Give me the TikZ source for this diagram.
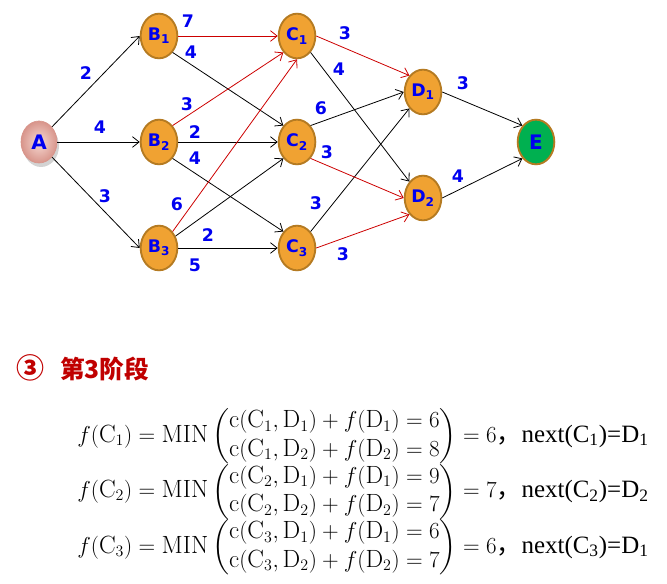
\documentclass[tikz,border=0pt]{standalone}
\usepackage{amsmath}
\usepackage{fontspec}
\usetikzlibrary{arrows.meta,shapes.geometric,shadows}
\newfontfamily\nodefont{DejaVu Sans}
\newfontfamily\cjk{Noto Sans CJK SC}
\newfontfamily\timesfont{Liberation Serif}
\definecolor{stageFill}{HTML}{F0A232}
\definecolor{stageLine}{HTML}{B57B22}
\definecolor{endFill}{HTML}{00B050}
\definecolor{wtBlue}{HTML}{0000F0}
\definecolor{pathRed}{HTML}{CC0000}
\definecolor{titleRed}{HTML}{C00000}
\definecolor{startIn}{HTML}{F6D9D3}
\definecolor{startOut}{HTML}{D8958B}
% one row of the stage-3 recursion: index, two sums, min
\newcommand{\fceq}[4]{$f(\mathrm{C}_{#1})=\mathrm{MIN}\left(\begin{matrix}
 \mathrm{c}(\mathrm{C}_{#1},\mathrm{D}_1)+f(\mathrm{D}_1)=#2\\
 \mathrm{c}(\mathrm{C}_{#1},\mathrm{D}_2)+f(\mathrm{D}_2)=#3\end{matrix}\right)=#4$}

\begin{document}
\begin{tikzpicture}[x=0.75pt,y=-0.75pt,
stage/.style={ellipse,draw=stageLine,fill=#1,line width=1.4pt,minimum width=27.5pt,minimum height=33.5pt,inner sep=0pt,text=wtBlue,font=\nodefont\bfseries\fontsize{13}{15}\selectfont},
stage/.default=stageFill,
start/.style={ellipse,draw=startOut,line width=.5pt,inner color=startIn,outer color=startOut,minimum width=27pt,minimum height=31.5pt,inner sep=0pt,text=wtBlue,font=\nodefont\bfseries\fontsize{15}{17}\selectfont,drop shadow={opacity=.35,shadow xshift=1.5pt,shadow yshift=-3pt}},
wt/.style={text=wtBlue,font=\nodefont\bfseries\fontsize{13}{15}\selectfont,inner sep=0pt},
edge/.style={-{Straight Barb[length=5pt,width=8pt]},line width=.6pt,draw=#1},
edge/.default=black,
eqline/.style={anchor=base west,inner sep=0pt,font=\fontsize{18.7}{21.5}\selectfont}]
\useasboundingbox (0,0) rectangle (667,584);
\node[start] (A) at (39,142) {A};
\node[stage] (B1) at (159,36) {B\textsubscript{1}};
\node[stage] (B2) at (159,142) {B\textsubscript{2}};
\node[stage] (B3) at (159,248) {B\textsubscript{3}};
\node[stage] (C1) at (297,36) {C\textsubscript{1}};
\node[stage] (C2) at (297,142) {C\textsubscript{2}};
\node[stage] (C3) at (297,248) {C\textsubscript{3}};
\node[stage] (D1) at (423,92) {D\textsubscript{1}};
\node[stage] (D2) at (423,198) {D\textsubscript{2}};
\node[stage=endFill,font=\nodefont\bfseries\fontsize{15}{17}\selectfont] (E) at (536,142) {E};
\foreach \s/\t in {A.north east/B1.west,A.east/B2.west,A.south east/B3.west,
  B1.south east/C2.north west,B2.east/C2.west,B2.south east/C3.north west,
  B3/C2.south west,B3.east/C3.west,C1.south east/D2.north west,
  C2.north east/D1.west,C3.north east/D1.south west,D1.east/E.north west,D2.east/E.south west}
  \draw[edge] (\s) -- (\t);
\foreach \s/\t in {B1.east/C1.west,B2.north east/C1.south west,B3.north east/C1.south,
  C1.east/D1.north west,C2.south east/D2.west,C3.east/D2.south west}
  \draw[edge=pathRed] (\s) -- (\t);
% edge weights
\foreach \n/\x/\y/\v in {AB1/86/73/2,AB2/100/127/4,AB3/105/196/3,
  B1C1/188/21/7,B1C2/191/52/4,B2C1/187/104/3,B2C2/195/132/2,B2C3/195/158/4,
  B3C1/177/204/6,B3C2/208/235/2,B3C3/195/265/5,
  C1D1/345/33/3,C1D2/339/69/4,C2D1/321/108/6,C2D2/327/152/3,C3D1/316/203/3,C3D2/343/254/3,
  D1E/463/83/3,D2E/458/176/4}
  \node[wt] (w\n) at (\x,\y) {\v};
\node[anchor=west,inner sep=0pt,text=titleRed,font=\cjk\bfseries\fontsize{18.5}{21}\selectfont] (title) at (16,368) {{\fontsize{21}{21}\selectfont ③}\hspace{12pt}第3阶段};
\node[eqline] (eq1) at (77,442) {\fceq{1}{6}{8}{6}{\cjk ，}{\timesfont next(C\textsubscript{1})=D\textsubscript{1}}};
\node[eqline] (eq2) at (77,497.5) {\fceq{2}{9}{7}{7}{\cjk ，}{\timesfont next(C\textsubscript{2})=D\textsubscript{2}}};
\node[eqline] (eq3) at (77,553) {\fceq{3}{6}{7}{6}{\cjk ，}{\timesfont next(C\textsubscript{3})=D\textsubscript{1}}};
\end{tikzpicture}
\end{document}
